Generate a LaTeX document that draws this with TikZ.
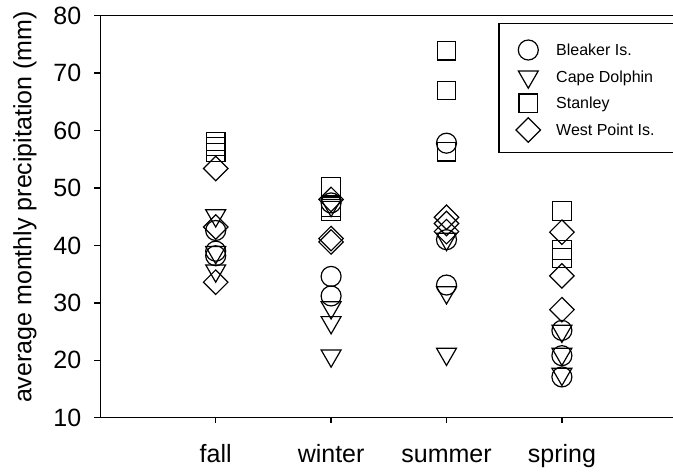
\documentclass[tikz,border=0pt]{standalone}
\usepackage{fontspec}
\setmainfont{Liberation Sans}
\usetikzlibrary{shapes.geometric}
\tikzset{
  mk/.style={draw, line width=1.2pt, inner sep=0pt},
  bleaker/.style={mk, circle, minimum size=20pt},
  cape/.style={mk, regular polygon, regular polygon sides=3, shape border rotate=180, minimum size=23pt},
  stanley/.style={mk, rectangle, minimum size=18.5pt},
  westpt/.style={mk, diamond, minimum size=25pt},
  big/.style={font=\fontsize{25}{30}\selectfont},
  small/.style={font=\fontsize{16}{19}\selectfont},
}
\begin{document}
\begin{tikzpicture}[x=1pt, y=-1pt]
  \useasboundingbox (0,0) rectangle (673,472);
  \begin{scope}[shift={(100.3,475.13)}, x=115.4pt, y=5.743pt, line width=1.4pt]
    % frame
    \coordinate (ll) at (0,10);
    \coordinate (ul) at (0,80);
    \coordinate (lr) at (4.97,10);
    \coordinate (ur) at (4.97,80);
    \draw (ur) -- (ul) -- (ll) -- (lr);
    \foreach \v in {10,20,...,80} {
      \draw (0,\v) -- (-0.052,\v);
      \node[big, anchor=east, inner sep=0pt] (y\v) at (-0.1586,\v) {\v};
    }
    \foreach \s [count=\i] in {fall,winter,summer,spring} {
      \draw (\i,10) -- (\i,9.13);
      \node[big, anchor=base, inner sep=0pt] (x\i) at (\i,2.2) {\s};
    }
    % fall
    \draw
      (1,42.6) node[bleaker] (fB1) {}
      (1,39.0) node[bleaker] (fB2) {}
      (1,38.2) node[bleaker] (fB3) {}
      (1,45.2) node[cape] (fC1) {}
      (1,38.8) node[cape] (fC2) {}
      (1,35.6) node[cape] (fC3) {}
      (1,58.1) node[stanley] (fS1) {}
      (1,57.2) node[stanley] (fS2) {}
      (1,56.2) node[stanley] (fS3) {}
      (1,53.4) node[westpt] (fW1) {}
      (1,43.2) node[westpt] (fW2) {}
      (1,33.6) node[westpt] (fW3) {};
    % winter
    \draw
      (2,47.4) node[bleaker] (wB1) {}
      (2,34.6) node[bleaker] (wB2) {}
      (2,31.2) node[bleaker] (wB3) {}
      (2,47.0) node[cape] (wC1) {}
      (2,29.2) node[cape] (wC2) {}
      (2,26.6) node[cape] (wC3) {}
      (2,20.8) node[cape] (wC4) {}
      (2,50.2) node[stanley] (wS1) {}
      (2,46.7) node[stanley] (wS2) {}
      (2,46.0) node[stanley] (wS3) {}
      (2,48.0) node[westpt] (wW1) {}
      (2,41.2) node[westpt] (wW2) {}
      (2,40.6) node[westpt] (wW3) {};
    % summer
    \draw
      (3,57.8) node[bleaker] (sB1) {}
      (3,41.0) node[bleaker] (sB2) {}
      (3,33.1) node[bleaker] (sB3) {}
      (3,41.1) node[cape] (sC1) {}
      (3,31.8) node[cape] (sC2) {}
      (3,21.1) node[cape] (sC3) {}
      (3,73.9) node[stanley] (sS1) {}
      (3,67.0) node[stanley] (sS2) {}
      (3,56.3) node[stanley] (sS3) {}
      (3,44.9) node[westpt] (sW1) {}
      (3,43.8) node[westpt] (sW2) {}
      (3,42.4) node[westpt] (sW3) {};
    % spring
    \draw
      (4,25.2) node[bleaker] (pB1) {}
      (4,20.8) node[bleaker] (pB2) {}
      (4,17.1) node[bleaker] (pB3) {}
      (4,25.1) node[cape] (pC1) {}
      (4,21.1) node[cape] (pC2) {}
      (4,17.6) node[cape] (pC3) {}
      (4,46.0) node[stanley] (pS1) {}
      (4,39.2) node[stanley] (pS2) {}
      (4,37.8) node[stanley] (pS3) {}
      (4,42.3) node[westpt] (pW1) {}
      (4,34.7) node[westpt] (pW2) {}
      (4,28.8) node[westpt] (pW3) {};
  \end{scope}
  \node[big, rotate=90] (ylab) at (25,207) {average monthly precipitation (mm)};
  % legend
  \draw[line width=1.4pt] (675,23.3) -- (499,23.3) -- (499,152.7) -- (675,152.7);
  \node[bleaker] (lB) at (528.3,50) {};
  \node[cape] (lC) at (528.3,76.7) {};
  \node[stanley] (lS) at (528.3,103.3) {};
  \node[westpt] (lW) at (528.3,130) {};
  \node[small, anchor=base west, inner sep=0pt] (tB) at (556,55.5) {Bleaker Is.};
  \node[small, anchor=base west, inner sep=0pt] (tC) at (556,82.2) {Cape Dolphin};
  \node[small, anchor=base west, inner sep=0pt] (tS) at (556,108.8) {Stanley};
  \node[small, anchor=base west, inner sep=0pt] (tW) at (556,135.5) {West Point Is.};
\end{tikzpicture}
\end{document}
